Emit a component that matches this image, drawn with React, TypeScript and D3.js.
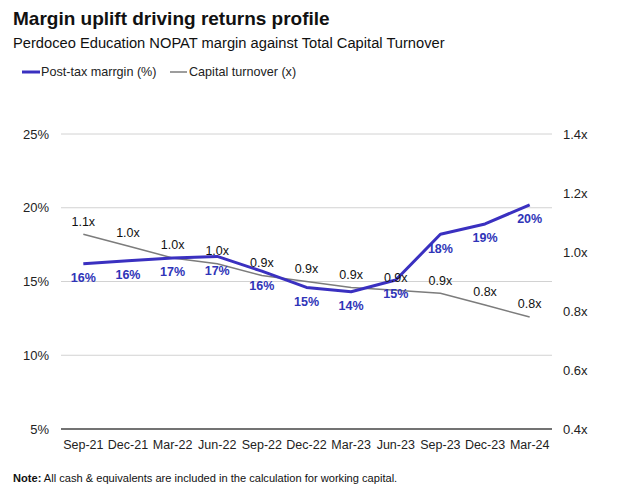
import React, { useEffect, useRef } from 'react'
import * as d3 from 'd3'

const periods = ['Sep-21', 'Dec-21', 'Mar-22', 'Jun-22', 'Sep-22', 'Dec-22', 'Mar-23', 'Jun-23', 'Sep-23', 'Dec-23', 'Mar-24']
const marginPct = [16.2, 16.4, 16.6, 16.7, 15.7, 14.6, 14.3, 15.1, 18.2, 18.9, 20.2]
const capTurnover = [1.06, 1.02, 0.98, 0.96, 0.92, 0.9, 0.88, 0.87, 0.86, 0.82, 0.78]
const leftTicks = [5, 10, 15, 20, 25]
const rightTicks = [0.4, 0.6, 0.8, 1.0, 1.2, 1.4]

const FONT = '"Liberation Sans", Arial, Helvetica, sans-serif'
const BLUE = '#3a30c0'
const BLUE_TXT = '#2f34b8'
const GREY = '#7c7c7c'

const App: React.FC = () => {
  const ref = useRef<SVGSVGElement>(null)

  useEffect(() => {
    renderChart()
  }, [])

  const renderChart = () => {
    const svg = d3.select(ref.current)
    svg.selectAll('*').remove()
    svg.style('font-family', FONT)

    const left = 61
    const right = 552
    const top = 134
    const bottom = 429

    const x = d3.scaleBand().domain(periods).range([left, right])
    const xc = (p: string) => (x(p) as number) + x.bandwidth() / 2
    const yL = d3.scaleLinear().domain([5, 25]).range([bottom, top])
    const yR = d3.scaleLinear().domain([0.4, 1.4]).range([bottom, top])

    // titles
    svg.append('text').attr('x', 13).attr('y', 25)
      .attr('font-size', 19).attr('font-weight', 'bold').attr('fill', '#111')
      .text('Margin uplift driving returns profile')
    svg.append('text').attr('x', 13).attr('y', 48)
      .attr('font-size', 14.7).attr('fill', '#111')
      .text('Perdoceo Education NOPAT margin against Total Capital Turnover')

    // legend
    const lg = svg.append('g')
    lg.append('line').attr('x1', 22).attr('x2', 40).attr('y1', 72).attr('y2', 72)
      .attr('stroke', BLUE).attr('stroke-width', 3)
    lg.append('text').attr('x', 41).attr('y', 72).attr('dy', '0.35em')
      .attr('font-size', 12.6).attr('fill', '#222').text('Post-tax marrgin (%)')
    lg.append('line').attr('x1', 170).attr('x2', 187).attr('y1', 72).attr('y2', 72)
      .attr('stroke', GREY).attr('stroke-width', 1.5)
    lg.append('text').attr('x', 189).attr('y', 72).attr('dy', '0.35em')
      .attr('font-size', 12.6).attr('fill', '#222').text('Capital turnover (x)')

    // gridlines
    svg.append('g').selectAll('line')
      .data(leftTicks.filter((t) => t !== 5))
      .enter().append('line')
      .attr('x1', left).attr('x2', right)
      .attr('y1', (d) => yL(d)).attr('y2', (d) => yL(d))
      .attr('stroke', '#d2d2d2').attr('stroke-width', 1)
    svg.append('line').attr('x1', left).attr('x2', right)
      .attr('y1', yL(5)).attr('y2', yL(5))
      .attr('stroke', '#444').attr('stroke-width', 1.5)

    // axes labels
    svg.append('g').selectAll('text').data(leftTicks).enter().append('text')
      .attr('x', 49).attr('y', (d) => yL(d)).attr('dy', '0.35em')
      .attr('text-anchor', 'end').attr('font-size', 13).attr('fill', '#222')
      .text((d) => `${d}%`)
    svg.append('g').selectAll('text').data(rightTicks).enter().append('text')
      .attr('x', 563).attr('y', (d) => yR(d)).attr('dy', '0.35em')
      .attr('font-size', 13).attr('fill', '#222')
      .text((d) => `${d.toFixed(1)}x`)
    svg.append('g').selectAll('text').data(periods).enter().append('text')
      .attr('x', (d) => xc(d)).attr('y', 445).attr('dy', '0.35em')
      .attr('text-anchor', 'middle').attr('font-size', 12.5).attr('fill', '#222')
      .text((d) => d)

    // lines
    const turnLine = d3.line<number>()
      .x((_, i) => xc(periods[i]))
      .y((d) => yR(d))
    const marginLine = d3.line<number>()
      .x((_, i) => xc(periods[i]))
      .y((d) => yL(d))

    svg.append('path').attr('d', turnLine(capTurnover) as string)
      .attr('fill', 'none').attr('stroke', GREY).attr('stroke-width', 1.5)
    svg.append('path').attr('d', marginLine(marginPct) as string)
      .attr('fill', 'none').attr('stroke', BLUE).attr('stroke-width', 3)
      .attr('stroke-linejoin', 'round')

    // data labels
    svg.append('g').selectAll('text').data(capTurnover).enter().append('text')
      .attr('x', (_, i) => xc(periods[i])).attr('y', (d) => yR(d) - 13).attr('dy', '0.35em')
      .attr('text-anchor', 'middle').attr('font-size', 12.5).attr('fill', '#111')
      .text((d) => `${d.toFixed(1)}x`)
    svg.append('g').selectAll('text').data(marginPct).enter().append('text')
      .attr('x', (_, i) => xc(periods[i])).attr('y', (d) => yL(d) + 14).attr('dy', '0.35em')
      .attr('text-anchor', 'middle').attr('font-size', 12.5).attr('font-weight', 'bold')
      .attr('fill', BLUE_TXT)
      .text((d) => `${Math.round(d)}%`)

    // note
    const note = svg.append('text').attr('x', 13).attr('y', 482)
      .attr('font-size', 11.1).attr('fill', '#111')
    note.append('tspan').attr('font-weight', 'bold').text('Note:')
    note.append('tspan').text(' All cash & equivalents are included in the calculation for working capital.')
  }

  return (
    <div style={{ position: 'absolute', left: 0, top: 0 }}>
      <svg ref={ref} width={640} height={496} style={{ display: 'block', background: '#fff' }} />
    </div>
  )
}

export default App
